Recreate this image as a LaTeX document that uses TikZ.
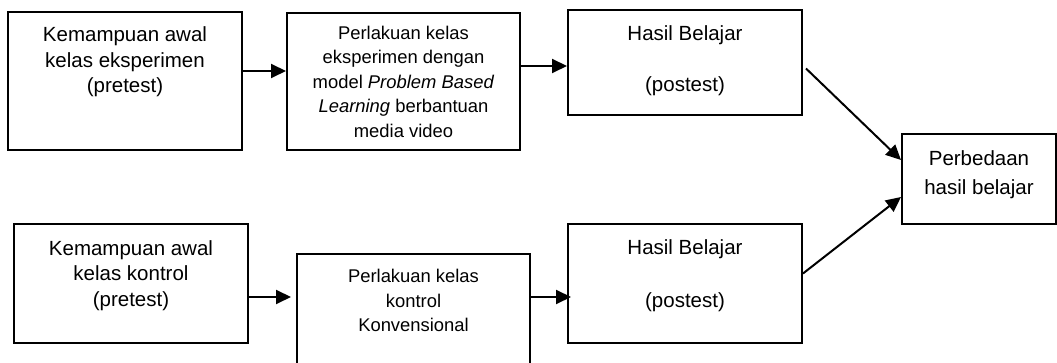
\documentclass[tikz,border=0pt]{standalone}
\usepackage{fontspec}
\setmainfont{Liberation Sans}
\usetikzlibrary{arrows.meta}

\begin{document}
\begin{tikzpicture}[x=0.5pt,y=-0.5pt,line width=1pt,>={Triangle[length=7.5pt,width=7pt]},
                    main node/.style={rectangle,draw,align=center,font=\fontsize{10.25}{12.75}\selectfont},
                    small node/.style={main node,font=\fontsize{9.2}{12.25}\selectfont}]

 \useasboundingbox (0,0) rectangle (1057,363);

 \node[main node,minimum width=117pt,minimum height=69pt,text depth=21pt] (1) at (125,81) {Kemampuan awal\\kelas eksperimen\\(pretest)};

 \node[small node,minimum width=116.5pt,minimum height=68.5pt,text depth=-1.8pt] (2) at (403.5,81.5) {Perlakuan kelas\\eksperimen dengan\\model \textit{Problem Based}\\\textit{Learning} berbantuan\\media video};

 \node[main node,minimum width=117pt,minimum height=52.5pt,text depth=3.5pt] (3) at (685,62.5) {Hasil Belajar\\[12.75pt](postest)};

 \node[main node,minimum width=77pt,minimum height=45pt,text depth=6pt] (4) at (979,179) {Perbedaan\\[1.75pt]hasil belajar};

 \node[main node,minimum width=117pt,minimum height=59.5pt,text depth=9.5pt] (5) at (685,283.5) {Hasil Belajar\\[13.75pt](postest)};

 \node[main node,minimum width=117pt,minimum height=59.5pt,text depth=10pt] (6) at (131,283.5) {Kemampuan awal\\kelas kontrol\\(pretest)};

 \node[small node,minimum width=116.5pt,minimum height=63pt,text depth=16.2pt] (7) at (413.5,317) {Perlakuan kelas\\kontrol\\Konvensional};

 % arrows
 \draw[->] ([yshift=5pt]1.east) -- ([yshift=5pt]1.east -| 2.west);
 \draw[->] ([yshift=7.75pt]2.east) -- ([yshift=7.75pt]2.east -| 3.west);
 \draw[->] ([yshift=-6.75pt]6.east) -- ([yshift=-6.75pt,xshift=-2.5pt]6.east -| 7.west);
 \draw[->] ([yshift=10pt]7.east) -- ([yshift=10pt,xshift=2pt]7.east -| 5.west);
 \draw[->] ([xshift=1.5pt,yshift=-3pt]3.east) -- ([yshift=9.5pt]4.west);
 \draw[->] ([yshift=5pt]5.east) -- ([yshift=-9pt]4.west);

\end{tikzpicture}
\end{document}
